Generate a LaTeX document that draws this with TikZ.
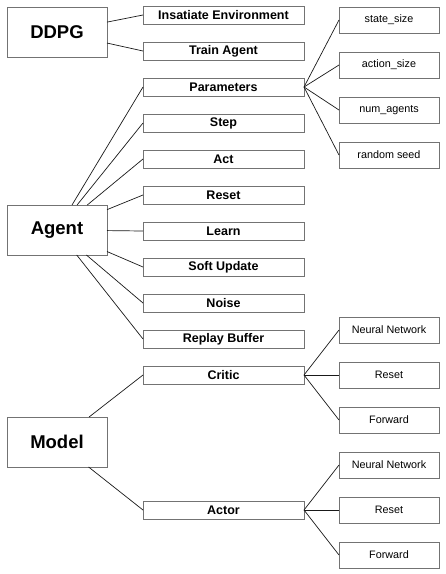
\documentclass[tikz,border=0pt]{standalone}
\usepackage{fontspec}
\setmainfont{Liberation Sans}
\usepackage{tikz}
\usetikzlibrary{positioning}

\tikzset{
  bigbox/.style={draw=black!55, line width=0.8pt, minimum width=100pt, minimum height=50pt,
    inner sep=0pt, outer sep=0pt, font=\fontsize{18.5}{20}\selectfont\bfseries},
  midbox/.style={draw=black!55, line width=0.8pt, minimum width=161pt, minimum height=18pt,
    inner sep=0pt, outer sep=0pt, font=\fontsize{12.5}{13}\selectfont\bfseries},
  leafbox/.style={draw=black!55, line width=0.8pt, minimum width=100pt, minimum height=26pt,
    inner sep=0pt, outer sep=0pt, font=\fontsize{10.8}{12}\selectfont},
  link/.style={draw=black!90, line width=0.7pt}
}

\begin{document}
\begin{tikzpicture}[x=1pt, y=-1pt]

  \useasboundingbox (0,0) rectangle (446,574);

  % main blocks
  \node[bigbox] (ddpg)  at (57,32)  {DDPG};
  \node[bigbox] (agent) at (57,230) {Agent};
  \node[bigbox] (model) at (57,442) {Model};

  % ddpg
  \node[midbox] (env)   at (223.5,15) {Insatiate Environment};
  \node[midbox, below=18pt of env]    (train)  {Train Agent};

  % agent
  \node[midbox, below=18pt of train]  (params) {Parameters};
  \node[midbox, below=18pt of params] (step)   {Step};
  \node[midbox, below=18pt of step]   (act)    {Act};
  \node[midbox, below=18pt of act]    (reset)  {Reset};
  \node[midbox, below=18pt of reset]  (learn)  {Learn};
  \node[midbox, below=18pt of learn]  (soft)   {Soft Update};
  \node[midbox, below=18pt of soft]   (noise)  {Noise};
  \node[midbox, below=18pt of noise]  (buffer) {Replay Buffer};

  % model
  \node[midbox, below=18pt of buffer]  (critic) {Critic};
  \node[midbox, below=117pt of critic] (actor)  {Actor};

  % parameters
  \node[leafbox, right=35pt of params, yshift=22pt] (asize) {action\_size};
  \node[leafbox, above=19pt of asize] (ssize)  {state\_size};
  \node[leafbox, below=19pt of asize] (nagent) {num\_agents};
  \node[leafbox, below=19pt of nagent] (seed)  {random seed};

  % critic
  \node[leafbox, right=35pt of critic] (creset) {Reset};
  \node[leafbox, above=19pt of creset] (cnet)   {Neural Network};
  \node[leafbox, below=19pt of creset] (cfwd)   {Forward};

  % actor
  \node[leafbox, right=35pt of actor] (areset) {Reset};
  \node[leafbox, above=19pt of areset] (anet)  {Neural Network};
  \node[leafbox, below=19pt of areset] (afwd)  {Forward};

  \foreach \m in {env,train}
    \draw[link] (ddpg) -- (\m.west);
  \foreach \m in {params,step,act,reset,learn,soft,noise,buffer}
    \draw[link] (agent) -- (\m.west);
  \foreach \m in {critic,actor}
    \draw[link] (model) -- (\m.west);

  \foreach \l in {ssize,asize,nagent,seed}
    \draw[link] (params.east) -- (\l.west);
  \foreach \l in {cnet,creset,cfwd}
    \draw[link] (critic.east) -- (\l.west);
  \foreach \l in {anet,areset,afwd}
    \draw[link] (actor.east) -- (\l.west);

\end{tikzpicture}
\end{document}
